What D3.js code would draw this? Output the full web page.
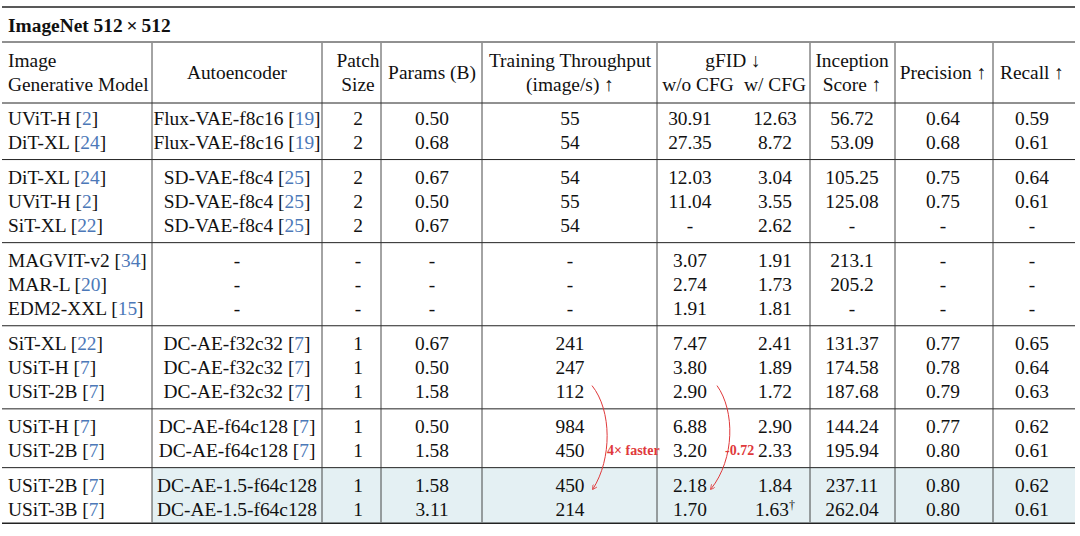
<!DOCTYPE html>
<html><head><meta charset="utf-8">
<script src="https://cdn.jsdelivr.net/npm/d3@7"></script>
<style>body{margin:0;background:#fff}text{font-family:"Liberation Serif","Times New Roman",serif}</style>
</head><body><svg id="c" width="1080" height="536"></svg>
<script>
const models=["UViT-H","DiT-XL","DiT-XL","UViT-H","SiT-XL","MAGVIT-v2","MAR-L","EDM2-XXL","SiT-XL","USiT-H","USiT-2B","USiT-H","USiT-2B","USiT-2B","USiT-3B"];
const modelCites=["2","24","24","2","22","34","20","15","22","7","7","7","7","7","7"];
const autoencoders=["Flux-VAE-f8c16","Flux-VAE-f8c16","SD-VAE-f8c4","SD-VAE-f8c4","SD-VAE-f8c4","-","-","-","DC-AE-f32c32","DC-AE-f32c32","DC-AE-f32c32","DC-AE-f64c128","DC-AE-f64c128","DC-AE-1.5-f64c128","DC-AE-1.5-f64c128"];
const aeCites=["19","19","25","25","25","","","","7","7","7","7","7","",""];
const patchSize=["2","2","2","2","2","-","-","-","1","1","1","1","1","1","1"];
const params=["0.50","0.68","0.67","0.50","0.67","-","-","-","0.67","0.50","1.58","0.50","1.58","1.58","3.11"];
const throughput=["55","54","54","55","54","-","-","-","241","247","112","984","450","450","214"];
const fidNoCfg=["30.91","27.35","12.03","11.04","-","3.07","2.74","1.91","7.47","3.80","2.90","6.88","3.20","2.18","1.70"];
const fidCfg=["12.63","8.72","3.04","3.55","2.62","1.91","1.73","1.81","2.41","1.89","1.72","2.90","2.33","1.84","1.63"];
const inception=["56.72","53.09","105.25","125.08","-","213.1","205.2","-","131.37","174.58","187.68","144.24","195.94","237.11","262.04"];
const precision=["0.64","0.68","0.75","0.75","-","-","-","-","0.77","0.78","0.79","0.77","0.80","0.80","0.80"];
const recall=["0.59","0.61","0.64","0.61","-","-","-","-","0.65","0.64","0.63","0.62","0.61","0.62","0.61"];
const groups=[0,0,1,1,1,2,2,2,3,3,3,4,4,5,5];

const svg=d3.select("#c");
const fs=19.4, blue="#4c78b8", red="#e0393b";
const rowY=i=>118+i*24.3+groups[i]*10.2;
const x=d3.scaleOrdinal().domain(["model","ae","patch","params","tp","fid0","fid1","is","prec","rec"])
 .range([8,237,358,432,570,690,775,852,943,1032]);
const vlines=[152,322,381,482,657,810,895,993];
const L=2,R=1075;

svg.append("rect").attr("x",152).attr("y",(rowY(12)+rowY(13))/2).attr("width",R-152).attr("height",rowY(14)+14-(rowY(12)+rowY(13))/2).attr("fill","#e4f0f3");

const hr=(y,w)=>svg.append("line").attr("x1",L).attr("x2",R).attr("y1",y).attr("y2",y).attr("stroke","#222").attr("stroke-width",w);
hr(7,1.6);hr(42,1);hr(103,1);
for(let i=1;i<15;i++) if(groups[i]!==groups[i-1]) hr((rowY(i)+rowY(i-1))/2,1);
hr(rowY(14)+14,1.6);
vlines.forEach(v=>svg.append("line").attr("x1",v).attr("x2",v).attr("y1",43).attr("y2",rowY(14)+13).attr("stroke","#333").attr("stroke-width",0.9));

const t=(xx,yy,s,anchor,opt={})=>svg.append("text").attr("x",xx).attr("y",yy).attr("dy","0.35em").attr("text-anchor",anchor).attr("font-size",opt.size||fs).attr("font-weight",opt.bold?"bold":null).attr("fill",opt.fill||"#111").text(s);
t(8,25,"ImageNet 512\u2009×\u2009512","start",{bold:true});
t(8,60,"Image","start");t(8,84,"Generative Model","start");
t(237,72,"Autoencoder","middle");
t(358,60,"Patch","middle");t(358,84,"Size","middle");
t(432,72,"Params (B)","middle");
t(570,60,"Training Throughput","middle");t(570,84,"(image/s) ↑","middle");
t(733,60,"gFID ↓","middle");t(698,84,"w/o CFG","middle");t(775,84,"w/ CFG","middle");
t(852,60,"Inception","middle");t(852,84,"Score ↑","middle");
t(943,72,"Precision ↑","middle");t(1032,72,"Recall ↑","middle");

const withCite=(xx,yy,name,cite,anchor)=>{
  const el=svg.append("text").attr("x",xx).attr("y",yy).attr("dy","0.35em").attr("text-anchor",anchor).attr("font-size",fs).attr("fill","#111");
  el.append("tspan").text(name);
  if(cite){el.append("tspan").text(" [");el.append("tspan").attr("fill",blue).text(cite);el.append("tspan").text("]");}
};
models.forEach((m,i)=>{
  const y=rowY(i);
  withCite(x("model"),y,m,modelCites[i],"start");
  withCite(x("ae"),y,autoencoders[i],aeCites[i],"middle");
  t(x("patch"),y,patchSize[i],"middle");
  t(x("params"),y,params[i],"middle");
  t(x("tp"),y,throughput[i],"middle");
  t(x("fid0"),y,fidNoCfg[i],"middle");
  const f=t(x("fid1"),y,fidCfg[i],"middle");
  if(i===14){f.append("tspan").attr("font-size",12).attr("dy","-0.6em").text("†");}
  t(x("is"),y,inception[i],"middle");
  t(x("prec"),y,precision[i],"middle");
  t(x("rec"),y,recall[i],"middle");
});

const defs=svg.append("defs");
defs.append("marker").attr("id","ah").attr("viewBox","0 0 10 10").attr("refX",8).attr("refY",5).attr("markerWidth",5).attr("markerHeight",5).attr("orient","auto")
 .append("path").attr("d","M0,0L10,5L0,10").attr("fill","none").attr("stroke",red).attr("stroke-width",1.5);
const arrow=(x0,y0,x1,y1,bx)=>{const p=d3.path();p.moveTo(x0,y0);p.bezierCurveTo(bx,y0+25,bx,y1-30,x1,y1);
 svg.append("path").attr("d",p.toString()).attr("fill","none").attr("stroke",red).attr("stroke-width",1).attr("marker-end","url(#ah)");};
arrow(592,rowY(10)-6,593,rowY(13)+4,612);
arrow(717,rowY(10)-6,711,rowY(13)+4,735);
t(607,rowY(12),"4× faster","start",{bold:true,size:14,fill:red});
t(725,rowY(12),"-0.72","start",{bold:true,size:14,fill:red});
</script></body></html>
